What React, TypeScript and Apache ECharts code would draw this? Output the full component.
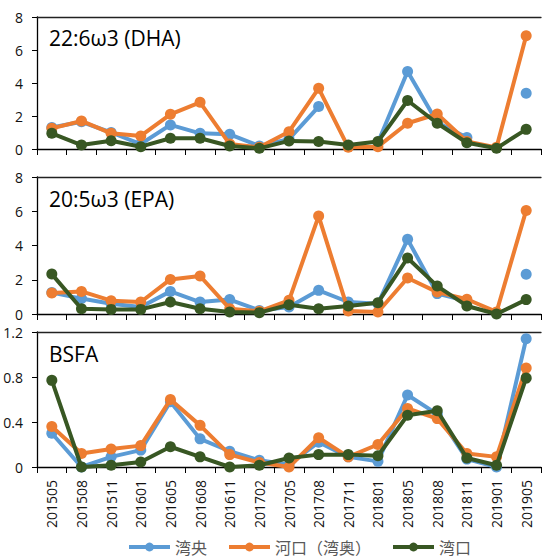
import React, { useEffect, useRef } from "react";
import * as echarts from "echarts";

const categories = ["201505","201508","201511","201601","201605","201608","201611","201702","201705","201708","201711","201801","201805","201808","201811","201901","201905"];
const seriesNames = ["湾央", "河口（湾奥）", "湾口"];
const panelTitles = ["22:6ω3 (DHA)", "20:5ω3 (EPA)", "BSFA"];

const dhaWanyang = [1.3, 1.65, 1.0, 0.3, 1.46, 0.95, 0.89, 0.18, 0.6, 2.57, null, 0.4, 4.7, 1.6, 0.69, null, 3.38];
const dhaHekou = [1.25, 1.7, 0.95, 0.79, 2.1, 2.83, 0.3, 0.1, 1.05, 3.68, 0.1, 0.14, 1.56, 2.12, 0.45, 0.1, 6.86];
const dhaWankou = [0.95, 0.24, 0.5, 0.14, 0.65, 0.65, 0.18, 0.04, 0.49, 0.45, 0.24, 0.45, 2.94, 1.56, 0.38, 0.04, 1.19];

const epaWanyang = [1.25, 0.9, 0.6, 0.41, 1.32, 0.7, 0.84, 0.21, 0.41, 1.38, 0.7, 0.6, 4.36, 1.19, 0.75, null, 2.32];
const epaHekou = [1.23, 1.32, 0.78, 0.7, 2.02, 2.22, 0.31, 0.16, 0.8, 5.72, 0.18, 0.12, 2.1, 1.28, 0.86, 0.12, 6.05];
const epaWankou = [2.33, 0.31, 0.27, 0.27, 0.7, 0.31, 0.12, 0.08, 0.54, 0.31, 0.47, 0.66, 3.27, 1.63, 0.47, 0, 0.84];

const bsfaWanyang = [0.3, 0, 0.09, 0.15, 0.58, 0.25, 0.14, 0.06, 0.02, 0.22, 0.09, 0.05, 0.64, 0.47, 0.07, 0, 1.14];
const bsfaHekou = [0.36, 0.12, 0.16, 0.19, 0.6, 0.37, 0.11, 0.04, 0, 0.26, 0.09, 0.2, 0.52, 0.43, 0.12, 0.09, 0.88];
const bsfaWankou = [0.77, 0, 0.015, 0.045, 0.18, 0.09, 0, 0.015, 0.08, 0.11, 0.11, 0.1, 0.46, 0.5, 0.08, 0.015, 0.79];

const yMax = [8, 8, 1.2];
const yInterval = [2, 2, 0.4];

const colors = ["#5B9BD5", "#ED7D31", "#385723"];
const FONT = "'Open Sans', 'Noto Sans', sans-serif";

export default function App() {
  const ref = useRef<HTMLDivElement>(null);
  useEffect(() => {
    document.body.style.margin = "0";
    if (!ref.current) return;
    const chart = echarts.init(ref.current, null, { renderer: "svg" });
    const panels = [
      [dhaWanyang, dhaHekou, dhaWankou],
      [epaWanyang, epaHekou, epaWankou],
      [bsfaWanyang, bsfaHekou, bsfaWankou],
    ];
    const grids = [
      { left: 37, right: 1, top: 17, height: 132 },
      { left: 37, right: 1, top: 177, height: 137 },
      { left: 37, right: 1, top: 332, height: 135 },
    ];
    const xAxis: any[] = [];
    const yAxis: any[] = [];
    const series: any[] = [];
    panels.forEach((p, i) => {
      xAxis.push({
        type: "category",
        gridIndex: i,
        data: categories,
        position: "bottom",
        axisLine: { show: true, lineStyle: { color: "#000", width: 1.3 } },
        axisTick: { show: true, length: 6, lineStyle: { color: "#000", width: 1 } },
        axisLabel: {
          show: i === 2,
          rotate: 90,
          margin: 13,
          fontSize: 14,
          fontFamily: FONT,
          color: "#111",
          interval: 0,
        },
        splitLine: { show: false },
      });
      xAxis.push({
        type: "category",
        gridIndex: i,
        data: categories,
        position: "top",
        axisLine: { show: true, lineStyle: { color: "#222", width: 1.3 } },
        axisTick: { show: false },
        axisLabel: { show: false },
        splitLine: { show: false },
      });
      yAxis.push({
        type: "value",
        gridIndex: i,
        min: 0,
        max: yMax[i],
        interval: yInterval[i],
        axisLine: { show: true, lineStyle: { color: "#000", width: 1.3 } },
        axisTick: { show: true, length: 5, lineStyle: { color: "#000" } },
        axisLabel: {
          margin: 14,
          fontSize: 14,
          fontFamily: FONT,
          color: "#111",
          formatter: (v: number) => String(Math.round(v * 10) / 10),
        },
        splitLine: { show: false },
      });
      p.forEach((d, k) => {
        series.push({
          type: "line",
          name: seriesNames[k],
          xAxisIndex: i * 2,
          yAxisIndex: i,
          data: d,
          symbol: "circle",
          symbolSize: 11,
          connectNulls: false,
          lineStyle: { width: 4, color: colors[k] },
          itemStyle: { color: colors[k] },
          z: 2 + k,
        });
      });
    });
    const titleY = [41, 202, 357];
    chart.setOption({
      animation: false,
      grid: grids,
      xAxis,
      yAxis,
      series,
      legend: {
        data: seriesNames,
        left: 127,
        top: 539,
        padding: 0,
        itemWidth: 41,
        itemHeight: 11,
        itemGap: 20,
        lineStyle: { width: 4 },
        textStyle: { fontSize: 16, color: "#595959", fontFamily: "'Noto Sans CJK JP', sans-serif" },
      },
      graphic: panelTitles.map((t, i) => ({
        type: "text",
        left: 49,
        top: titleY[i] - 14,
        style: { text: t, fontSize: 21, fontFamily: FONT, fill: "#000" },
      })),
    });
    return () => chart.dispose();
  }, []);
  return <div ref={ref} style={{ width: 542, height: 559 }} />;
}
